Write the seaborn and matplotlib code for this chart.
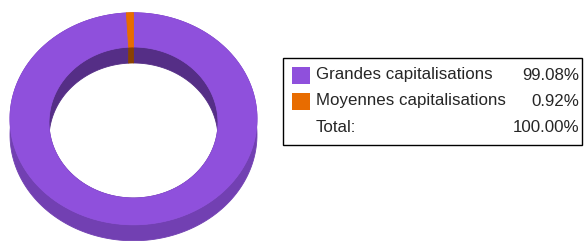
import numpy as np
import matplotlib
matplotlib.use("Agg")
import matplotlib.pyplot as plt
import seaborn as sns
from matplotlib.patches import Rectangle

categories = ["Grandes capitalisations", "Moyennes capitalisations"]
shares = [99.08, 0.92]
share_labels = ["99.08%", "0.92%"]
total_label = "100.00%"

top_colors = ["#8f50dc", "#e86c00"]
outer_wall_colors = ["#7240b2", "#b95600"]
inner_wall_colors = ["#552e86", "#8a4100"]

sns.set_style("white")
plt.rcParams["font.family"] = ["Liberation Sans", "DejaVu Sans"]

W, H = 584, 241
fig = plt.figure(figsize=(W / 100, H / 100), dpi=100)
ax = fig.add_axes([0, 0, 1, 1])
ax.set_xlim(0, W)
ax.set_ylim(H, 0)
ax.axis("off")

# ring geometry (pixels): outer and inner ellipse of the top face, depth
cx = 133.5
out_cy, out_a, out_b = 118.8, 123.5, 106.0
in_cy, in_a, in_b = 122.5, 84.5, 75.5
depth = 16


def arc(t1, t2, cy, a, b, dy=0.0, n=200):
    t = np.radians(np.linspace(t1, t2, n))
    return cx + a * np.cos(t), cy - b * np.sin(t) + dy


# slice angles: start at top, clockwise
bounds = 90 - 360 * np.concatenate([[0], np.cumsum(shares)]) / sum(shares)
slices = list(zip(bounds[:-1], bounds[1:]))

# outer side wall
for (t1, t2), c in zip(slices, outer_wall_colors):
    x1, y1 = arc(t1, t2, out_cy, out_a, out_b)
    x2, y2 = arc(t1, t2, out_cy, out_a, out_b, depth)
    ax.fill(np.r_[x1, x2[::-1]], np.r_[y1, y2[::-1]], color=c, lw=0.6, ec=c)

# inner side wall
for (t1, t2), c in zip(slices, inner_wall_colors):
    x1, y1 = arc(t1, t2, in_cy, in_a, in_b)
    x2, y2 = arc(t1, t2, in_cy, in_a, in_b, depth)
    ax.fill(np.r_[x1, x2[::-1]], np.r_[y1, y2[::-1]], color=c, lw=0.6, ec=c)

# top face
for (t1, t2), c in zip(slices, top_colors):
    x1, y1 = arc(t1, t2, out_cy, out_a, out_b)
    x2, y2 = arc(t1, t2, in_cy, in_a, in_b)
    ax.fill(np.r_[x1, x2[::-1]], np.r_[y1, y2[::-1]], color=c, lw=0.6, ec=c)

# legend table
fs = 12.2
ax.add_patch(Rectangle((282.5, 57.5), 299, 87, fill=False, ec="black", lw=1))
row_y = [75, 101, 127]
for i, (name, lab, c) in enumerate(zip(categories, share_labels, top_colors)):
    ax.add_patch(Rectangle((292, row_y[i] - 8.5), 18, 17, color=c, lw=0))
    ax.text(316, row_y[i], name, fontsize=fs, va="center", ha="left")
    ax.text(579, row_y[i], lab, fontsize=fs, va="center", ha="right")
ax.text(316, row_y[2], "Total:", fontsize=fs, va="center", ha="left")
ax.text(579, row_y[2], total_label, fontsize=fs, va="center", ha="right")

fig.savefig("out.png", dpi=100)
